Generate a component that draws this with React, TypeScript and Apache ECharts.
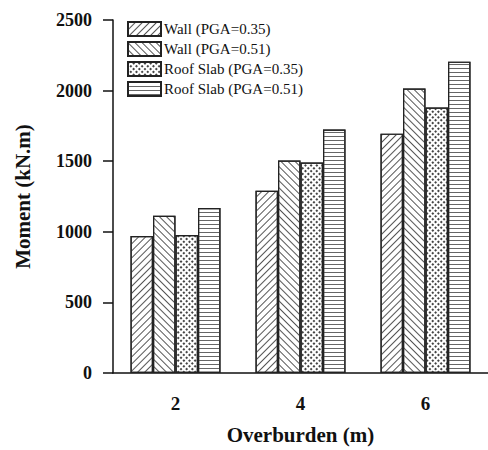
import React, { useEffect, useRef } from "react";
import * as echarts from "echarts";

const categories = ["2", "4", "6"];
const seriesNames = [
  "Wall (PGA=0.35)",
  "Wall (PGA=0.51)",
  "Roof Slab (PGA=0.35)",
  "Roof Slab (PGA=0.51)",
];
const wall035 = [970, 1290, 1695];
const wall051 = [1114, 1505, 2015];
const slab035 = [977, 1490, 1880];
const slab051 = [1168, 1725, 2205];
const yTicks = [0, 500, 1000, 1500, 2000, 2500];

const serif = "'Liberation Serif', 'DejaVu Serif', serif";

export default function App() {
  const ref = useRef<HTMLDivElement>(null);
  useEffect(() => {
    if (!ref.current) return;
    const chart = echarts.init(ref.current, undefined, { renderer: "svg" });
    const decals: any[] = [
      { symbol: "rect", symbolSize: 1, color: "#555", dashArrayX: [1, 0], dashArrayY: [1, 3.5], rotation: -Math.PI / 4 },
      { symbol: "rect", symbolSize: 1, color: "#555", dashArrayX: [1, 0], dashArrayY: [1, 3.5], rotation: Math.PI / 4 },
      { symbol: "rect", symbolSize: 1, color: "#444", dashArrayX: [1.5, 1.5], dashArrayY: [1.5, 1.5], rotation: Math.PI / 4 },
      { symbol: "rect", symbolSize: 1, color: "#666", dashArrayX: [1, 0], dashArrayY: [1, 3], rotation: 0 },
    ];
    const data = [wall035, wall051, slab035, slab051];
    chart.setOption({
      animation: false,
      backgroundColor: "#fff",
      grid: { left: 113, top: 20, bottom: 77, right: -8, containLabel: false },
      legend: {
        left: 127,
        top: 21,
        padding: 0,
        orient: "vertical",
        itemWidth: 33,
        itemHeight: 14,
        itemGap: 4,
        icon: "rect",
        textStyle: { fontFamily: serif, fontSize: 15, lineHeight: 14, color: "#111", padding: [0, 0, 0, -2] },
        data: seriesNames,
      },
      xAxis: {
        type: "category",
        data: categories,
        name: "Overburden (m)",
        nameLocation: "middle",
        nameGap: 51,
        nameTextStyle: { fontFamily: serif, fontSize: 21, fontWeight: "bold", color: "#111" },
        axisLine: { lineStyle: { color: "#111", width: 1.5 } },
        axisTick: { alignWithLabel: true, length: 10, lineStyle: { color: "#111", width: 1.5 } },
        axisLabel: { fontFamily: serif, fontSize: 19, fontWeight: "bold", color: "#111", margin: 21 },
      },
      yAxis: {
        type: "value",
        min: 0,
        max: 2500,
        interval: 500,
        name: "Moment (kN.m)",
        nameLocation: "middle",
        nameGap: 80,
        nameTextStyle: { fontFamily: serif, fontSize: 21, fontWeight: "bold", color: "#111" },
        axisLine: { show: true, lineStyle: { color: "#111", width: 1.5 } },
        axisTick: { show: true, length: 10, lineStyle: { color: "#111", width: 1.5 } },
        axisLabel: {
          fontFamily: serif, fontSize: 18, fontWeight: "bold", color: "#111", margin: 21,
          formatter: (v: number) => (yTicks.includes(v) ? String(v) : ""),
        },
        splitLine: { show: false },
      },
      series: seriesNames.map((name, i) => ({
        name,
        type: "bar",
        data: data[i],
        barWidth: 22.5,
        barGap: "0%",
        itemStyle: { color: "#fff", borderColor: "#222", borderWidth: 1.2, decal: decals[i] },
      })),
    });
    return () => chart.dispose();
  }, []);
  return <div ref={ref} style={{ position: "absolute", left: 0, top: 0, width: 488, height: 450 }} />;
}
